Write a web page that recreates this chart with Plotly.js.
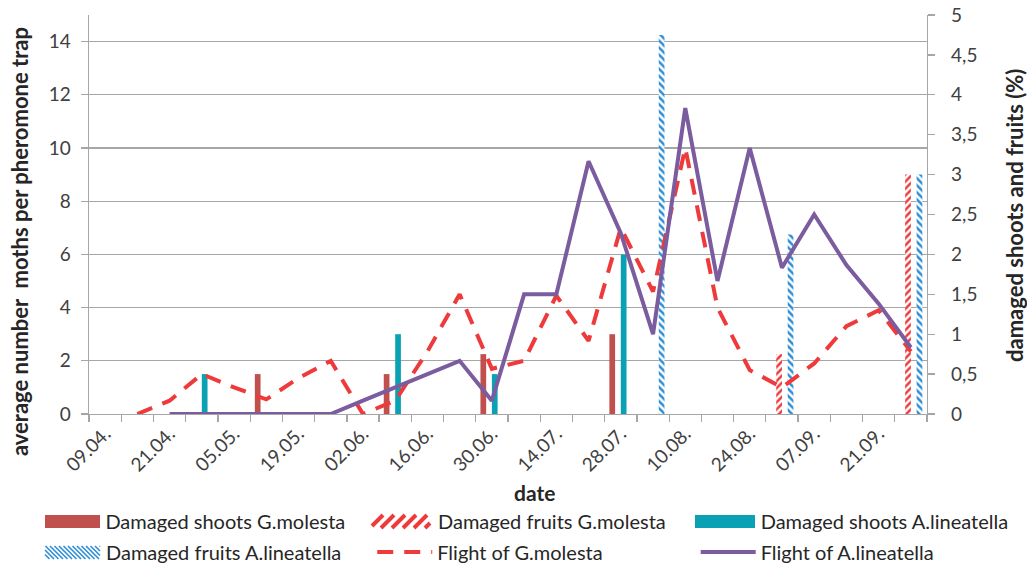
<!DOCTYPE html>
<html>
<head>
<meta charset="utf-8">
<script src="https://cdn.plot.ly/plotly-3.0.1.min.js"></script>
<style>html,body{margin:0;padding:0;background:#fff;}#chart{width:1027px;height:568px;}</style>
</head>
<body>
<div id="chart"></div>
<script>
// sampling dates (categories); every second one is labelled on the axis
const dates = ['09.04.','15.04.','21.04.','28.04.','05.05.','12.05.','19.05.','26.05.','02.06.','09.06.',
  '16.06.','23.06.','30.06.','07.07.','14.07.','21.07.','28.07.','03.08.','10.08.','17.08.',
  '24.08.','31.08.','07.09.','14.09.','21.09.','28.09.'];
const labeledDates = ['09.04.','21.04.','05.05.','19.05.','02.06.','16.06.','30.06.','14.07.','28.07.','10.08.','24.08.','07.09.','21.09.'];

// damaged shoots / fruits (%) - right axis
const shootsGM = [null,null,null,null,null,0.5,null,null,null,0.5,null,null,0.75,null,null,null,1.0,null,null,null,null,null,null,null,null,null];
const fruitsGM = [null,null,null,null,null,null,null,null,null,null,null,null,null,null,null,null,null,null,null,null,null,0.75,null,null,null,3.0];
const shootsAL = [null,null,null,0.5,null,null,null,null,null,1.0,null,null,0.5,null,null,null,2.0,null,null,null,null,null,null,null,null,null];
const fruitsAL = [null,null,null,null,null,null,null,null,null,null,null,null,null,null,null,null,null,4.75,null,null,null,2.25,null,null,null,3.0];

// average number of moths per pheromone trap - left axis
const flightGM = [null,0,0.5,1.5,1.0,0.55,1.35,2.0,0,0.5,2.35,4.5,1.7,2.0,4.45,2.75,7.0,4.6,10.0,4.0,1.65,1.0,1.9,3.3,3.9,2.35];
const flightAL = [null,null,0,0,0,0,0,0,0.5,1.0,1.5,2.0,0.5,4.5,4.5,9.5,6.8,3.0,11.5,5.0,10.0,5.5,7.5,5.6,4.15,2.5];

const seriesNames = ['Damaged shoots G.molesta','Damaged fruits G.molesta','Damaged shoots A.lineatella',
  'Damaged fruits A.lineatella','Flight of G.molesta','Flight of A.lineatella'];

const gray = '#A6A6A6';
const cBrown = '#C0504D', cRed = '#EE3A3A', cTeal = '#0AA1B4', cBlue = '#2F8FD6', cPurple = '#7A5C9F';

const traces = [
  {type:'bar', x:dates, y:shootsGM, name:seriesNames[0], legend:'legend',
   marker:{color:cBrown}},
  {type:'bar', x:dates, y:fruitsGM, name:seriesNames[1], showlegend:false,
   marker:{color:'#ffffff', pattern:{shape:'/', fgcolor:cRed, bgcolor:'#ffffff', size:5, solidity:0.5, fillmode:'replace'}}},
  {type:'bar', x:dates, y:shootsAL, name:seriesNames[2], legend:'legend3',
   marker:{color:cTeal}},
  {type:'bar', x:dates, y:fruitsAL, name:seriesNames[3], showlegend:false,
   marker:{color:'#ffffff', pattern:{shape:'\\', fgcolor:cBlue, bgcolor:'#ffffff', size:5, solidity:0.5, fillmode:'replace'}}},
  {type:'scatter', mode:'lines', x:dates, y:flightGM, yaxis:'y2', name:seriesNames[4], legend:'legend5',
   line:{color:cRed, width:4, dash:'16px,11px'}},
  {type:'scatter', mode:'lines', x:dates, y:flightAL, yaxis:'y2', name:seriesNames[5], legend:'legend6',
   line:{color:cPurple, width:4}}
];

const tickFont = {family:'Lato, sans-serif', size:19, color:'#404040'};
const titleFont = {family:'Lato, sans-serif', size:22, color:'#262626'};
const legendFont = {family:'Lato, sans-serif', size:20, color:'#262626'};

// plot area in pixels (margins below) -> paper coordinates for legend decoration
const M = {l:89, r:100, t:15, b:154};
const PW = 1027 - M.l - M.r, PH = 568 - M.t - M.b;
const px = x => (x - M.l) / PW;
const py = y => (568 - M.b - y) / PH;

// one legend box per entry, laid out in 2 rows x 3 columns like the reference
function legendBox(x, y) {
  return {orientation:'h', x:x, xanchor:'left', y:y, yanchor:'middle', font:legendFont,
    bgcolor:'rgba(0,0,0,0)', itemwidth:55};
}
const colX = [-0.058, 0.338, 0.724];
const rowY = [-0.268, -0.346];

// wide legend keys like Excel's (solid or hatched rectangles)
function keyRect(x0, x1, y0, y1, color) {
  return {type:'rect', xref:'paper', yref:'paper', x0:px(x0), x1:px(x1), y0:py(y1), y1:py(y0),
    fillcolor:color, line:{width:0}, layer:'above'};
}
function keyHatch(x0, x1, y0, y1, period, lw, dir, color) {
  const h = y1 - y0;
  let d = '';
  for (let t = x0 - h; t < x1; t += period) {
    let sx, sy, ex, ey;
    if (dir === '/') { sx = t; sy = y1; ex = t + h; ey = y0;
      if (sx < x0) { sy = y1 - (x0 - sx); sx = x0; }
      if (ex > x1) { ey = y0 + (ex - x1); ex = x1; }
    } else { sx = t; sy = y0; ex = t + h; ey = y1;
      if (sx < x0) { sy = y0 + (x0 - sx); sx = x0; }
      if (ex > x1) { ey = y1 - (ex - x1); ex = x1; }
    }
    if (ex <= sx) continue;
    d += 'M' + px(sx) + ',' + py(sy) + 'L' + px(ex) + ',' + py(ey);
  }
  return {type:'path', xref:'paper', yref:'paper', path:d, line:{color:color, width:lw}, layer:'above'};
}
function keyText(text, x, y) {
  return {text:text, xref:'paper', yref:'paper', x:px(x), y:py(y), xanchor:'left', yanchor:'middle',
    showarrow:false, font:legendFont, borderpad:0};
}

const layout = {
  width:1027, height:568,
  margin:{l:M.l, r:M.r, t:M.t, b:M.b, autoexpand:false},
  paper_bgcolor:'#ffffff', plot_bgcolor:'#ffffff',
  separators:', ',
  showlegend:true,
  barmode:'group', bargap:0.29, bargroupgap:0,
  font:tickFont,
  xaxis:{type:'category', categoryorder:'array', categoryarray:dates,
    tickmode:'array', tickvals:dates, ticktext:dates.map(d => labeledDates.includes(d) ? d : ''),
    tickson:'boundaries', ticks:'outside', ticklen:7, tickcolor:gray, tickwidth:1.3,
    tickangle:-45, tickfont:tickFont, showline:true, linecolor:gray, linewidth:1.3,
    showgrid:false, zeroline:false, range:[-0.5,25.5], automargin:false},
  yaxis:{side:'right', range:[0,5], dtick:0.5, tick0:0, showgrid:false, zeroline:false,
    showline:true, linecolor:gray, linewidth:1.3, ticks:'outside', ticklen:7, tickcolor:gray, tickwidth:1.3,
    tickfont:tickFont, ticklabelstandoff:12, automargin:false},
  yaxis2:{overlaying:'y', side:'left', range:[0,15], dtick:2, tick0:0, showgrid:true, gridcolor:gray, gridwidth:1.3,
    zeroline:false, showline:true, linecolor:gray, linewidth:1.3, ticks:'outside', ticklen:7, tickcolor:gray, tickwidth:1.3,
    tickfont:tickFont, ticklabelstandoff:6, automargin:false},
  legend:legendBox(colX[0], rowY[0]),
  legend3:legendBox(colX[2], rowY[0]),
  legend5:legendBox(colX[1], rowY[1]),
  legend6:legendBox(colX[2], rowY[1]),
  shapes:[
    keyRect(45, 100, 515, 528, cBrown),
    keyHatch(372, 430, 515, 528, 11, 4, '/', cRed),
    keyRect(695, 755, 515, 528, cTeal),
    keyHatch(45, 100, 546, 559, 4.5, 1.6, '\\', cBlue)
  ],
  annotations:[
    keyText(seriesNames[1], 437, 521),
    keyText(seriesNames[3], 105, 552),
    {text:'<b>average number  moths per pheromone trap</b>', xref:'paper', yref:'paper', x:-0.0835, y:0.431,
     textangle:-90, showarrow:false, font:titleFont, xanchor:'center', yanchor:'middle'},
    {text:'<b>damaged shoots and fruits (%)</b>', xref:'paper', yref:'paper', x:1.1038, y:0.4987,
     textangle:-90, showarrow:false, font:titleFont, xanchor:'center', yanchor:'middle'},
    {text:'<b>date</b>', xref:'paper', yref:'paper', x:0.532, y:-0.1955,
     showarrow:false, font:{family:'Lato, sans-serif', size:21, color:'#262626'}, xanchor:'center', yanchor:'middle'}
  ]
};

Plotly.newPlot('chart', traces, layout, {displayModeBar:false, staticPlot:true});
</script>
</body>
</html>
